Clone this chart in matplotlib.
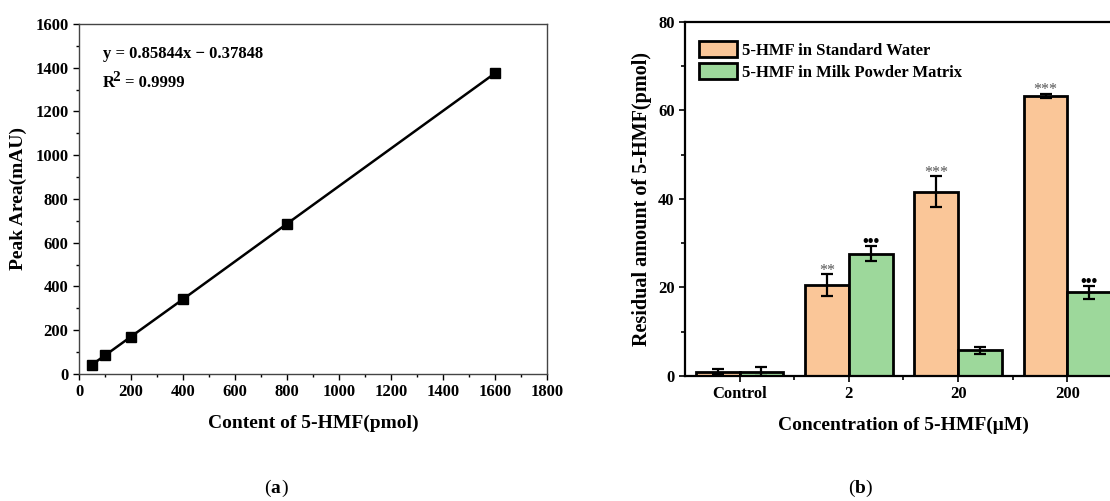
import matplotlib.pyplot as plt
import numpy as np
from matplotlib.ticker import MultipleLocator

plt.rcParams["font.family"] = "Liberation Serif"
plt.rcParams["font.weight"] = "bold"
plt.rcParams["axes.labelweight"] = "bold"

# panel (a): calibration curve
content_pmol = [50, 100, 200, 400, 800, 1600]
peak_area = [43, 85, 171, 342, 687, 1375]

# panel (b): residual 5-HMF
groups = ["Control", "2", "20", "200"]
water_mean = [1.0, 20.5, 41.6, 63.3]
water_err = [0.5, 2.5, 3.5, 0.5]
milk_mean = [1.0, 27.6, 5.8, 18.9]
milk_err = [1.1, 1.7, 0.85, 1.4]
water_sig = ["", "**", "***", "***"]
milk_sig = ["", "•••", "", "•••"]

fig = plt.figure(figsize=(11.1, 5.01), dpi=100)

# ---- (a)
ax1 = fig.add_axes([0.0712, 0.2535, 0.4216, 0.6986])
ax1.plot(content_pmol, peak_area, color="black", linewidth=1.8,
         marker="s", markersize=6.5)
ax1.set_xlim(0, 1800)
ax1.set_ylim(0, 1600)
ax1.xaxis.set_major_locator(MultipleLocator(200))
ax1.xaxis.set_minor_locator(MultipleLocator(100))
ax1.yaxis.set_major_locator(MultipleLocator(200))
ax1.yaxis.set_minor_locator(MultipleLocator(100))
ax1.tick_params(which="major", length=4, width=1, labelsize=12)
ax1.tick_params(which="minor", length=2.5, width=1)
ax1.set_xlabel("Content of 5-HMF(pmol)", fontsize=14, labelpad=10)
ax1.set_ylabel("Peak Area(mAU)", fontsize=14, labelpad=6)
ax1.text(0.051, 0.914, "y = 0.85844x \u2212 0.37848", transform=ax1.transAxes,
         fontsize=12, va="center")
# R^2 with a large superscript, as in the original
ax1.text(0.051, 0.831, "R", transform=ax1.transAxes, fontsize=12, va="center")
ax1.text(0.072, 0.848, "2", transform=ax1.transAxes, fontsize=11, va="center")
ax1.text(0.098, 0.831, "= 0.9999", transform=ax1.transAxes, fontsize=12, va="center")
for s in ax1.spines.values():
    s.set_linewidth(1.0)
    s.set_color("#444444")

# ---- (b)
ax2 = fig.add_axes([0.6171, 0.2495, 0.3937, 0.7066])
x = np.arange(len(groups))
w = 0.4
ax2.bar(x - w / 2, water_mean, w, color="#FAC698", edgecolor="black",
        linewidth=2.0, label="5-HMF in Standard Water", zorder=2)
ax2.bar(x + w / 2, milk_mean, w, color="#9DD89B", edgecolor="black",
        linewidth=2.0, label="5-HMF in Milk Powder Matrix", zorder=2)
ax2.errorbar(x - w / 2, water_mean, yerr=water_err, fmt="none", ecolor="black",
             elinewidth=1.6, capsize=4, capthick=1.6, zorder=3)
ax2.errorbar(x + w / 2, milk_mean, yerr=milk_err, fmt="none", ecolor="black",
             elinewidth=1.6, capsize=4, capthick=1.6, zorder=3)
for i in range(len(groups)):
    if water_sig[i]:
        ax2.text(x[i] - w / 2, water_mean[i] + water_err[i] + 0.8, water_sig[i],
                 ha="center", va="center", fontsize=11.5, color="#555555",
                 fontweight="normal")
    if milk_sig[i]:
        ax2.text(x[i] + w / 2, milk_mean[i] + milk_err[i] + 1.0, milk_sig[i],
                 ha="center", va="center", fontsize=12, color="black")

ax2.set_xlim(-0.5, 3.5)
ax2.set_ylim(0, 80)
ax2.set_xticks(x)
ax2.set_xticklabels(groups)
ax2.set_xticks(np.arange(0.5, 3.5, 1), minor=True)
ax2.yaxis.set_major_locator(MultipleLocator(20))
ax2.yaxis.set_minor_locator(MultipleLocator(10))
ax2.tick_params(which="major", length=4, width=1.2, labelsize=12)
ax2.tick_params(which="minor", length=3, width=1.2)
ax2.set_xlabel("Concentration of 5-HMF(\u03bcM)", fontsize=14, labelpad=10)
ax2.set_ylabel("Residual amount of 5-HMF(pmol)", fontsize=14.5, labelpad=4)
ax2.legend(loc="upper left", bbox_to_anchor=(0.016, 0.965), borderaxespad=0,
           frameon=False, fontsize=12, handlelength=2.3, handleheight=1.1,
           labelspacing=0.25, handletextpad=0.3)
for s in ax2.spines.values():
    s.set_linewidth(1.6)

fig.text(0.244, 0.008, "(", fontsize=14, fontweight="normal", ha="right", va="bottom")
fig.text(0.244, 0.008, "a", fontsize=14, fontweight="bold", ha="left", va="bottom")
fig.text(0.2538, 0.008, ")", fontsize=14, fontweight="normal", ha="left", va="bottom")
fig.text(0.770, 0.008, "(", fontsize=14, fontweight="normal", ha="right", va="bottom")
fig.text(0.770, 0.008, "b", fontsize=14, fontweight="bold", ha="left", va="bottom")
fig.text(0.7798, 0.008, ")", fontsize=14, fontweight="normal", ha="left", va="bottom")

fig.savefig("out.png", dpi=100)
